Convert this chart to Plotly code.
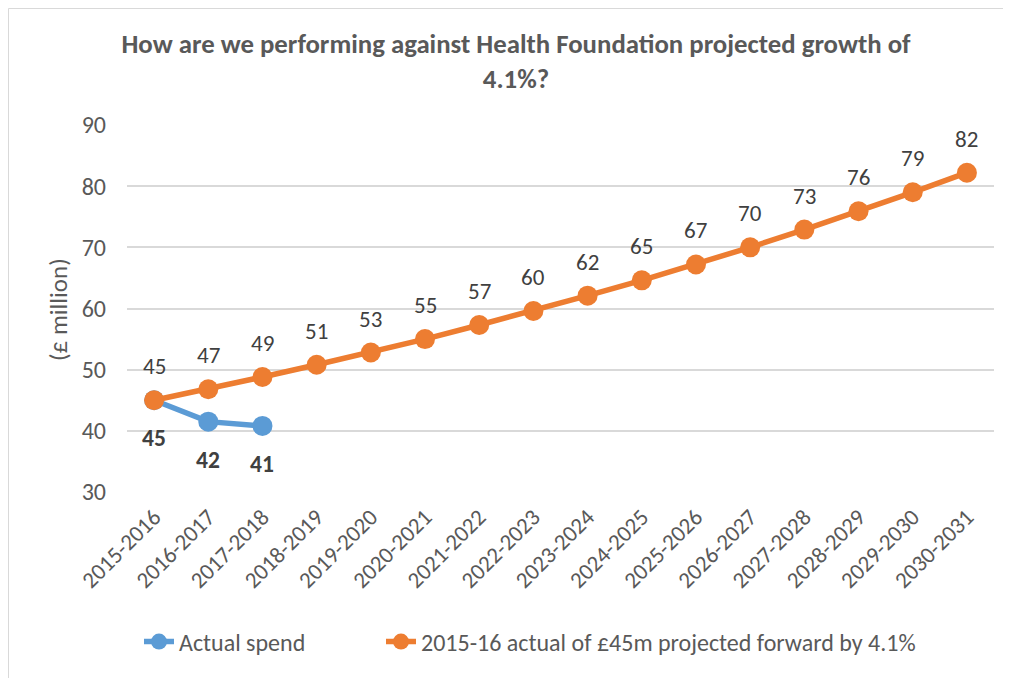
import plotly.graph_objects as go

categories = ["2015-2016", "2016-2017", "2017-2018", "2018-2019", "2019-2020", "2020-2021",
              "2021-2022", "2022-2023", "2023-2024", "2024-2025", "2025-2026", "2026-2027",
              "2027-2028", "2028-2029", "2029-2030", "2030-2031"]
actual_spend = [45.0, 41.5, 40.8]
actual_labels = ["45", "42", "41"]
projected = [45.0, 46.8, 48.8, 50.8, 52.8, 55.0, 57.3, 59.6, 62.1, 64.6, 67.2, 70.0, 72.9, 75.9, 79.0, 82.2]
projected_labels = ["45", "47", "49", "51", "53", "55", "57", "60", "62", "65", "67", "70", "73", "76", "79", "82"]

FONT = "Carlito, Calibri, Lato, sans-serif"
GREY = "#595959"
LABEL = "#404040"
BLUE = "#5B9BD5"
ORANGE = "#ED7D31"

OFF = 8  # page body margin
W, H = 1011 - OFF, 678 - OFF
L, R, T = 127 - OFF, 17, 125 - OFF
PW = W - L - R
PH = 367
B = H - T - PH


def py(screen_y):
    return (H - B - (screen_y - OFF)) / PH


def px(screen_x):
    return (screen_x - OFF - L) / PW


fig = go.Figure()
fig.add_trace(go.Scatter(
    x=categories[:len(actual_spend)], y=actual_spend, name="Actual spend",
    mode="lines+markers", line=dict(color=BLUE, width=5.5),
    marker=dict(color=BLUE, size=20), legend="legend",
))
fig.add_trace(go.Scatter(
    x=categories, y=projected, name="2015-16 actual of £45m projected forward by 4.1%",
    mode="lines+markers", line=dict(color=ORANGE, width=5.5),
    marker=dict(color=ORANGE, size=20), legend="legend2",
))

annotations = []
for c, v, t in zip(categories, projected, projected_labels):
    annotations.append(dict(x=c, y=v, text=t, showarrow=False, yshift=34,
                            font=dict(size=23, color=LABEL, family=FONT)))
for c, v, t in zip(categories, actual_spend, actual_labels):
    annotations.append(dict(x=c, y=v, text=f"<b>{t}</b>", showarrow=False, yshift=-38,
                            font=dict(size=23.5, color=LABEL, family=FONT)))
annotations.append(dict(
    text="(£ million)", textangle=-90, xref="paper", yref="paper",
    x=px(58), y=py(310), xanchor="center", yanchor="middle", showarrow=False,
    font=dict(size=25, color=GREY, family=FONT)))

legend_style = dict(orientation="h", xref="container", xanchor="left",
                    y=py(642), yanchor="middle",
                    font=dict(size=24, color=GREY, family=FONT))

fig.update_layout(
    width=W, height=H,
    margin=dict(l=L, r=R, t=T, b=B, autoexpand=False),
    paper_bgcolor="white", plot_bgcolor="white",
    font=dict(family=FONT, color=GREY),
    title=dict(
        text="<b>How are we performing against Health Foundation projected growth of<br>4.1%?</b>",
        x=(516 - OFF) / W, xanchor="center", xref="container", y=(H - 45) / H, yanchor="top",
        yref="container", automargin=False,
        font=dict(size=26.8, color=GREY, family=FONT),
    ),
    showlegend=True,
    legend=dict(x=(139 - OFF) / W, **legend_style),
    legend2=dict(x=(381 - OFF) / W, **legend_style),
    xaxis=dict(
        type="category", tickangle=-45, tickfont=dict(size=23, color=GREY),
        showgrid=False, showline=False, ticks="", zeroline=False, automargin=False,
        range=[-0.5, len(categories) - 0.5], ticklabelstandoff=6,
    ),
    yaxis=dict(
        range=[30, 90], dtick=10, tickfont=dict(size=24, color=GREY),
        gridcolor="#D9D9D9", gridwidth=1.5, zeroline=False, showline=False,
        automargin=False, ticks="", ticklabelstandoff=20,
    ),
    annotations=annotations,
    shapes=[dict(type="rect", xref="paper", yref="paper",
                 x0=px(8.5), x1=px(1013), y0=py(681), y1=py(8.5),
                 line=dict(color="#D9D9D9", width=1), layer="below")],
)

fig.write_html("out.html")
